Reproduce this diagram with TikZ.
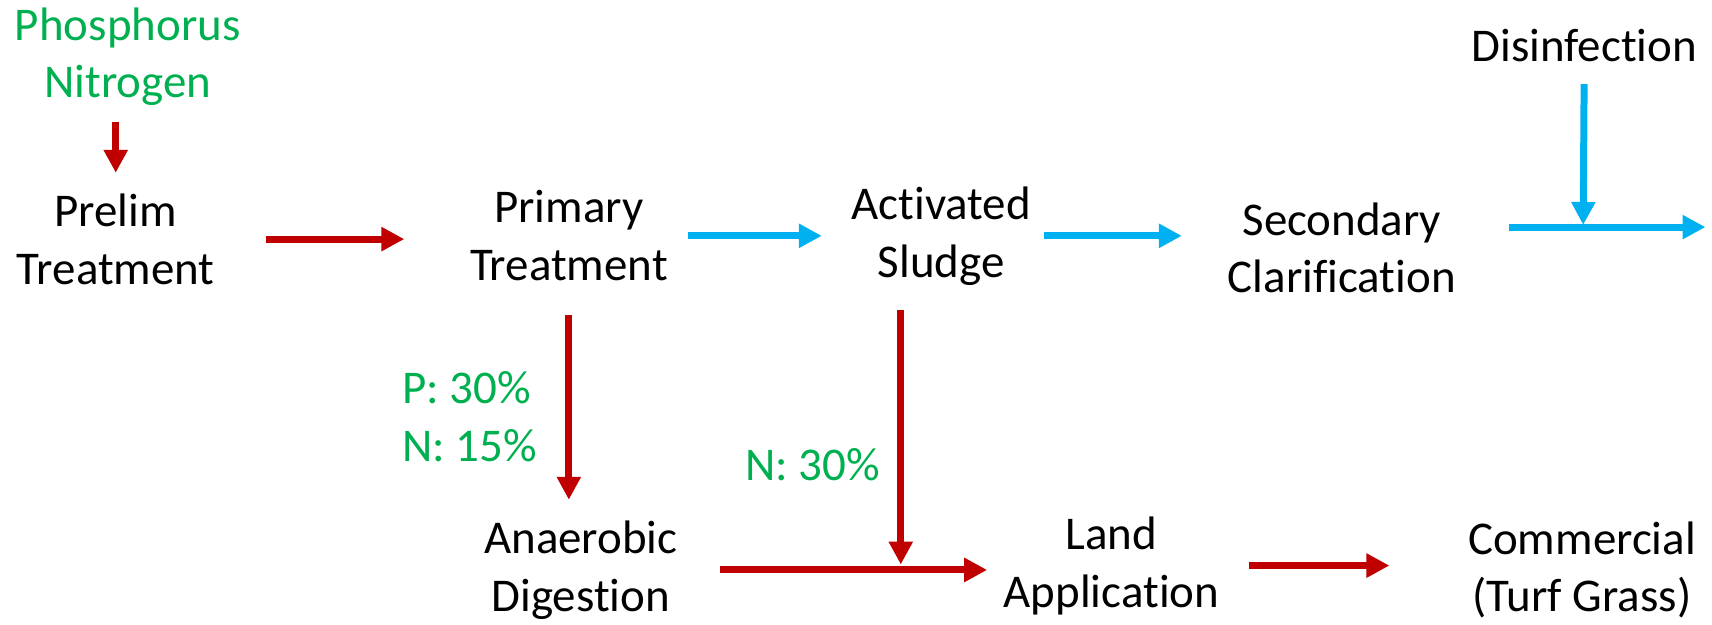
\documentclass[tikz,border=0pt]{standalone}
\usepackage{fontspec}
\setmainfont{Carlito}[Ligatures=NoCommon]
\usetikzlibrary{arrows.meta}
\definecolor{fRed}{RGB}{192,0,0}
\definecolor{fBlue}{RGB}{0,176,240}
\definecolor{fGreen}{RGB}{0,176,80}
\tikzset{
    stage/.style={inner sep=0pt, align=center, font=\fontsize{43}{53}\selectfont},
    load/.style={stage, text=fGreen},
    rflow/.style={fRed, line width=6.4pt, -{Triangle[length=21pt,width=21pt]}},
    bflow/.style={fBlue, line width=6.4pt, -{Triangle[length=21pt,width=21pt]}}
}

\begin{document}
\begin{tikzpicture}[x=1pt,y=-1pt]
\useasboundingbox (0,0) rectangle (1568,572);
\node[load]  (nut)    at ( 117, 52) {Phosphorus\\Nitrogen};
\node[stage] (prelim) at ( 106,219) {Prelim\\Treatment};
\node[stage] (primary) at ( 521,216) {Primary\\Treatment};
\node[stage] (sludge) at ( 862,216) {Activated\\Sludge};
\node[stage] (clarif) at (1229,227) {Secondary\\Clarification};
\node[stage] (disinf) at (1451, 42) {Disinfection};
\node[stage] (digest) at ( 532,522) {Anaerobic\\Digestion};
\node[stage] (land)   at (1018,518) {Land\\Application};
\node[stage] (turf)   at (1449,522) {Commercial\\(Turf Grass)};
\node[load,align=left,anchor=west] (pn) at (368,382) {P: 30\%\\N: 15\%};
\node[load]  (n30)    at ( 744,426) {N: 30\%};
\coordinate (outlet) at (1562,208);
\coordinate (mix)    at (1450,208);
\coordinate (join)   at ( 825,522);
% red: solids / nutrients
\draw[rflow,shorten <=14pt,shorten >=19pt] (nut.south -| prelim.north) -- (prelim.north);
\draw[rflow,shorten <=47pt,shorten >=60pt] (prelim.east) -- (prelim.east -| primary.west);
\draw[rflow,shorten <=31pt,shorten >=19pt] (primary.south) -- (primary.south |- digest.north);
\draw[rflow,shorten <=23pt,shorten >=5pt] (sludge.south -| join) -- (join);
\draw[rflow,shorten <=39pt,shorten >=15pt] (digest.east |- join) -- (land.west |- join);
\draw[rflow,shorten <=27pt,shorten >=72pt] (land.east) -- (land.east -| turf.west);
% blue: water line
\draw[bflow,shorten <=18pt,shorten >=27pt] (primary.east) -- (primary.east -| sludge.west);
\draw[bflow,shorten <=12pt,shorten >=42pt] (sludge.east) -- (sludge.east -| clarif.west);
\draw[bflow,shorten <=48pt] (clarif.east |- outlet) -- (outlet);
\draw[bflow,shorten <=20pt,shorten >=2pt] (disinf.south) -- (mix);
\end{tikzpicture}
\end{document}
